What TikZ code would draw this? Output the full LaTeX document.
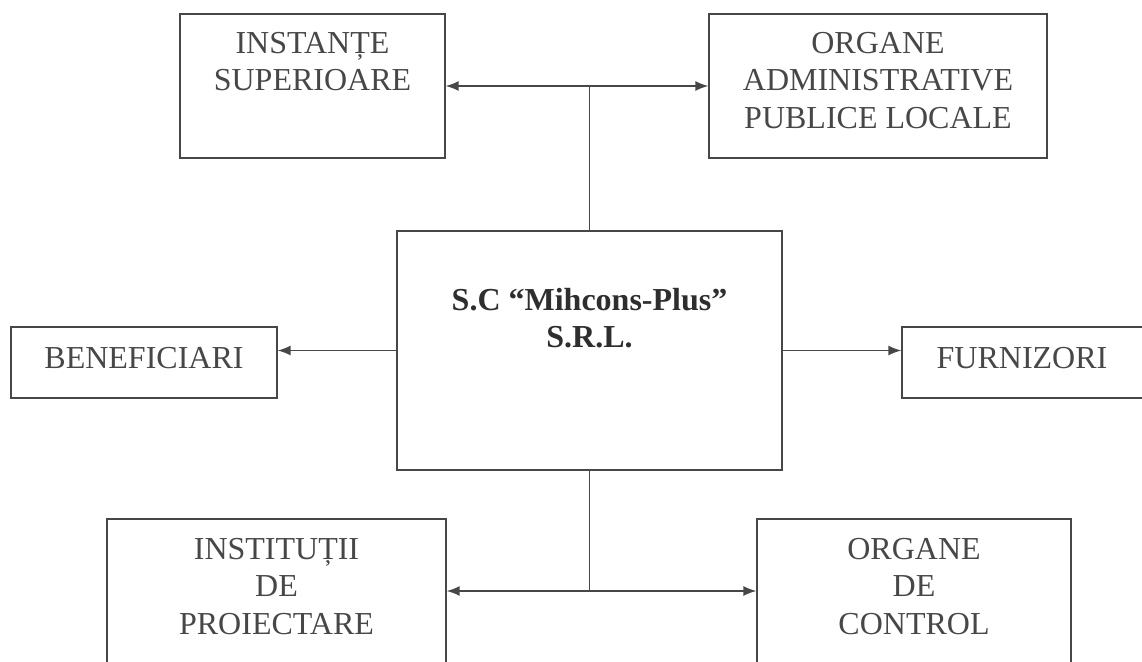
\documentclass[tikz,border=0pt]{standalone}
\usepackage{fontspec}
\setmainfont{Liberation Serif}
\usetikzlibrary{arrows.meta}

\begin{document}
\begin{tikzpicture}[x=1pt,y=1pt,yscale=-1,xscale=1,
    box/.style={draw=black!72, line width=1.3pt, rectangle, inner sep=0pt},
    txt/.style={text=black!72, inner sep=0pt, align=center, font=\fontsize{32}{37.5}\selectfont},
    wire/.style={draw=black!72, line width=1.4pt},
    link/.style={wire, -{Latex[length=13pt,width=10pt]}}]
        %set diagram size
        \useasboundingbox (0,0) rectangle (1142,661);

        %Shape: Rectangle [id:inst]
        \node [box, minimum width=265, minimum height=144] (inst) at (312.5,86) {};
        %Shape: Rectangle [id:admin]
        \node [box, minimum width=338, minimum height=144] (admin) at (878,86) {};
        %Shape: Rectangle [id:firm]
        \node [box, minimum width=385, minimum height=239] (firm) at (589.5,350.5) {};
        %Shape: Rectangle [id:benef]
        \node [box, minimum width=266, minimum height=71] (benef) at (144,362.5) {};
        %Shape: Rectangle [id:furn]
        \node [box, minimum width=244, minimum height=71] (furn) at (1024,362.5) {};
        %Shape: Rectangle [id:proiect]
        \node [box, minimum width=339, minimum height=181] (proiect) at (276.5,609.5) {};
        %Shape: Rectangle [id:control]
        \node [box, minimum width=314, minimum height=181] (control) at (914,609.5) {};

        % Text Node
        \node [txt, anchor=north] (instT) at (312.5,32) {INSTANȚE\\SUPERIOARE};
        % Text Node
        \node [txt, anchor=north] (adminT) at (878,32) {ORGANE\\ADMINISTRATIVE\\PUBLICE LOCALE};
        % Text Node
        \node [txt, anchor=north, text=black!82, font=\fontsize{32}{37}\selectfont\bfseries] (firmT) at (589.5,288) {S.C “Mihcons-Plus”\\S.R.L.};
        % Text Node
        \node [txt] (benefT) at (144,358) {BENEFICIARI};
        % Text Node
        \node [txt] (furnT) at (1022,358) {FURNIZORI};
        % Text Node
        \node [txt, anchor=north] (proiectT) at (276.5,538) {INSTITUȚII\\DE\\PROIECTARE};
        % Text Node
        \node [txt, anchor=north] (controlT) at (914,538) {ORGANE\\DE\\CONTROL};

        %Junctions
        \coordinate (jtop) at (firm.north |- inst.east);
        \coordinate (jbot) at (firm.south |- 0,591);

        %Connectors
        \draw [wire] (firm.north) -- (jtop);
        \draw [link] (jtop) -- (inst.east);
        \draw [link] (jtop) -- (admin.west);
        \draw [link] (firm.west) -- (firm.west -| benef.east);
        \draw [link] (firm.east) -- (firm.east -| furn.west);
        \draw [wire] (firm.south) -- (jbot);
        \draw [link] (jbot) -- (jbot -| proiect.east);
        \draw [link] (jbot) -- (jbot -| control.west);

\end{tikzpicture}
\end{document}
